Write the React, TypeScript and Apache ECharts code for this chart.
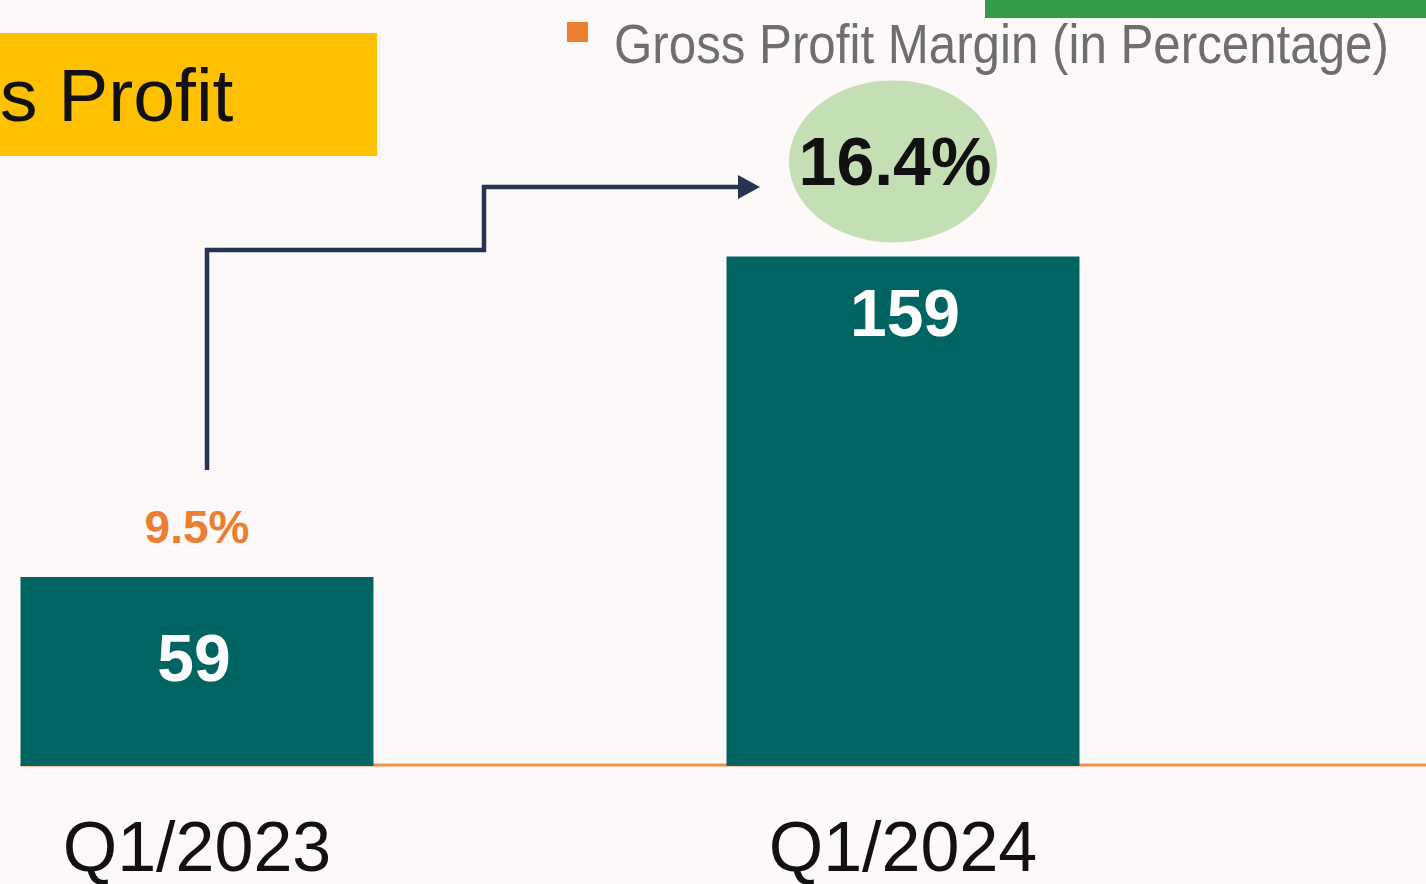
import React, { useEffect, useRef } from 'react';
import * as echarts from 'echarts';

const categories = ['Q1/2023', 'Q1/2024'];
const grossProfit = [59, 159];
const grossMargin = [9.5, 16.4];
const profitName = 'Gross Profit';
const marginName = 'Gross Profit Margin (in Percentage)';
const titleText = 's Profit';

const BAR_WIDTH = 353;
const TEAL = '#006462';
const ORANGE = '#ED7D31';

export default function App() {
  const ref = useRef<HTMLDivElement>(null);

  useEffect(() => {
    const chart = echarts.init(ref.current as HTMLDivElement, null, { renderer: 'svg' });

    const barLabels = [
      { position: 'inside', offset: [-3, -13] },
      { position: 'insideTop', offset: [2, 18] },
    ];
    const marginStyles = [
      {
        symbolSize: 2,
        itemStyle: { color: 'rgba(0,0,0,0)' },
        label: { color: ORANGE, fontSize: 46, offset: [0, 0] },
      },
      {
        symbolSize: [208, 162],
        symbolOffset: [-10, 0],
        itemStyle: { color: '#C5DFB5' },
        label: { color: '#111111', fontSize: 68, offset: [2, 0] },
      },
    ];

    const option: any = {
      animation: false,
      backgroundColor: '#FCF9F8',
      grid: { left: -156, right: 170, top: -3, bottom: 118, containLabel: false, outerBoundsMode: 'none' },
      xAxis: {
        type: 'category',
        data: categories,
        axisLine: { show: false },
        axisTick: { show: false },
        splitLine: { show: false },
        axisLabel: {
          margin: 46,
          fontSize: 70,
          lineHeight: 70,
          color: '#111111',
          fontFamily: 'Liberation Sans, Arial, sans-serif',
        },
      },
      yAxis: [
        { type: 'value', min: 0, max: 240, show: false, splitLine: { show: false } },
        { type: 'value', min: 5, max: 19.5, show: false, splitLine: { show: false } },
      ],
      series: [
        {
          name: profitName,
          type: 'bar',
          barWidth: BAR_WIDTH,
          itemStyle: { color: TEAL },
          z: 3,
          label: {
            show: true,
            color: '#FFFFFF',
            fontSize: 66,
            fontWeight: 'bold',
            fontFamily: 'Liberation Sans, Arial, sans-serif',
          },
          data: grossProfit.map((v, i) => ({ value: v, label: barLabels[i] })),
        },
        {
          name: marginName,
          type: 'line',
          yAxisIndex: 1,
          symbol: 'circle',
          lineStyle: { opacity: 0, width: 0 },
          itemStyle: { color: ORANGE },
          z: 4,
          label: {
            show: true,
            position: 'inside',
            formatter: '{c}%',
            fontWeight: 'bold',
            fontFamily: 'Liberation Sans, Arial, sans-serif',
          },
          data: grossMargin.map((v, i) => ({ value: v, ...marginStyles[i] })),
        },
      ],
    };

    chart.setOption(option);

    const y0 = chart.convertToPixel({ yAxisIndex: 0 }, 0) as number;
    const xFirst = chart.convertToPixel({ xAxisIndex: 0 }, categories[0]) as number;
    const lineLeft = xFirst - BAR_WIDTH / 2;

    chart.setOption({
      graphic: [
        {
          type: 'rect',
          z: 1,
          shape: { x: 985, y: 0, width: 441, height: 18 },
          style: { fill: '#349B4A' },
        },
        {
          type: 'rect',
          z: 1,
          shape: { x: 0, y: 33, width: 377, height: 123 },
          style: { fill: '#FFC000' },
        },
        {
          type: 'text',
          z: 2,
          x: 0,
          y: 95,
          style: {
            text: titleText,
            fill: '#111111',
            fontSize: 75,
            fontFamily: 'Liberation Sans, Arial, sans-serif',
            verticalAlign: 'middle',
            align: 'left',
          },
        },
        {
          type: 'rect',
          z: 2,
          shape: { x: 567, y: 22, width: 21, height: 20 },
          style: { fill: ORANGE },
        },
        {
          type: 'text',
          z: 2,
          x: 614,
          y: 43,
          scaleX: 0.88,
          style: {
            text: marginName,
            fill: '#6E6E6E',
            fontSize: 56,
            fontFamily: 'Liberation Sans, Arial, sans-serif',
            verticalAlign: 'middle',
            align: 'left',
          },
        },
        {
          type: 'line',
          z: 1,
          shape: { x1: lineLeft, y1: y0 - 1, x2: 1426, y2: y0 - 1 },
          style: { stroke: '#F0924A', lineWidth: 3 },
        },
        {
          type: 'polyline',
          z: 5,
          shape: { points: [[207, 470], [207, 250], [484, 250], [484, 187], [744, 187]] },
          style: { stroke: '#263352', lineWidth: 4.5, fill: null, lineJoin: 'miter' },
        },
        {
          type: 'polygon',
          z: 5,
          shape: { points: [[738, 175], [760, 187], [738, 199]] },
          style: { fill: '#263352' },
        },
      ],
    });

    return () => chart.dispose();
  }, []);

  return (
    <div
      ref={ref}
      style={{ position: 'fixed', left: 0, top: 0, width: 1426, height: 884 }}
    />
  );
}
